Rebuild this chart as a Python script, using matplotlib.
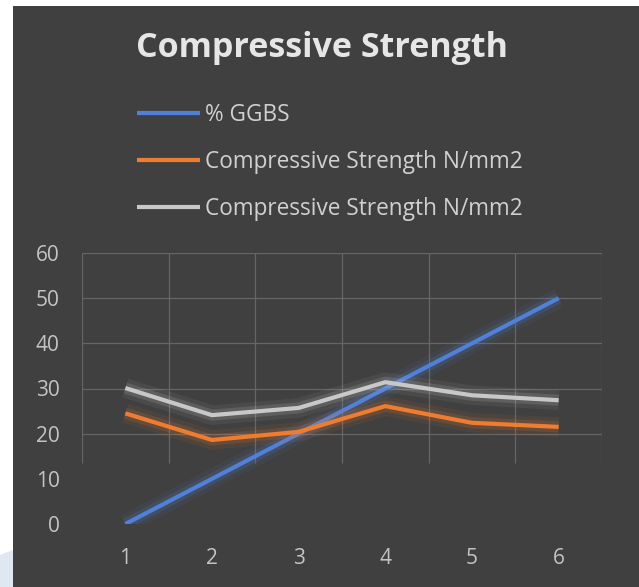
import matplotlib
matplotlib.use("Agg")
import matplotlib.pyplot as plt
import matplotlib.patheffects as pe
from matplotlib.patches import Rectangle, Polygon

# Data
categories = [1, 2, 3, 4, 5, 6]
ggbs_pct = [0, 10, 20, 30, 40, 50]
strength_a = [24.5, 18.6, 20.4, 26.1, 22.4, 21.5]
strength_b = [30.1, 24.1, 25.7, 31.4, 28.5, 27.4]
series_labels = ["% GGBS", "Compressive Strength N/mm2", "Compressive Strength N/mm2"]
y_ticks = [0, 10, 20, 30, 40, 50, 60]

BG = "#404040"
TXT = "#d0d0d0"
colors = ["#5080d8", "#ee7d31", "#c8c8c8"]

plt.rcParams["font.family"] = ["Open Sans", "DejaVu Sans"]

W, H = 639, 587
fig = plt.figure(figsize=(W / 100, H / 100), dpi=100)
fig.patch.set_facecolor("white")

# dark chart panel
fig.patches.append(Rectangle((13 / W, 0), 1 - 13 / W, 1 - 6 / H,
                             transform=fig.transFigure, facecolor=BG,
                             edgecolor="none", zorder=-2))
# pale corner shape in the lower left
fig.patches.append(Polygon([(0, 0), (0, 1 - 555 / H), (13 / W, 1 - 550 / H),
                            (13 / W, 0)], closed=True,
                           transform=fig.transFigure, facecolor="#dfe7f1",
                           edgecolor="none", zorder=-1))

ax = fig.add_axes([82 / W, 1 - 524 / H, (602 - 82) / W, (524 - 253) / H])
ax.set_facecolor("none")
ax.set_xlim(0.5, 6.5)
ax.set_ylim(0, 60)

# gridlines
grid_col = "#666666"
for yv in [20, 30, 40, 50, 60]:
    ax.hlines(yv, 0.5, 6.5, color=grid_col, lw=0.9, zorder=1)
for xv in [0.5, 1.5, 2.5, 3.5, 4.5, 5.5, 6.5]:
    ax.vlines(xv, 13.5, 60, color=grid_col, lw=0.9, zorder=1)

series = [ggbs_pct, strength_a, strength_b]
handles = []
for vals, c, lab in zip(series, colors, series_labels):
    ln, = ax.plot(categories, vals, color=c, lw=3, label=lab,
                  solid_capstyle="butt", zorder=3,
                  path_effects=[pe.Stroke(linewidth=14, foreground=c, alpha=0.08),
                                pe.Stroke(linewidth=8, foreground=c, alpha=0.16),
                                pe.Normal()])
    handles.append(ln)

for s in ax.spines.values():
    s.set_visible(False)
ax.tick_params(length=0, colors="#c4c4c4", labelsize=15)
ax.set_xticks(categories)
ax.set_yticks(y_ticks)
ax.tick_params(axis="x", pad=17)
ax.tick_params(axis="y", pad=16)

fig.text(322 / W, 1 - 48 / H, "Compressive Strength", ha="center", va="center",
         fontsize=24.5, fontweight="bold", color="#e6e6e6")

leg = fig.legend(handles=handles, labels=series_labels, loc="upper left",
                 bbox_to_anchor=(137 / W, 1 - 103 / H), frameon=False,
                 borderpad=0, borderaxespad=0,
                 fontsize=16.3, labelcolor=TXT, handlelength=2.8,
                 handletextpad=0.2, labelspacing=1.02)
for h in leg.legend_handles:
    h.set_path_effects([])
    h.set_linewidth(3)

fig.savefig("out.png", dpi=100, facecolor=fig.get_facecolor())
